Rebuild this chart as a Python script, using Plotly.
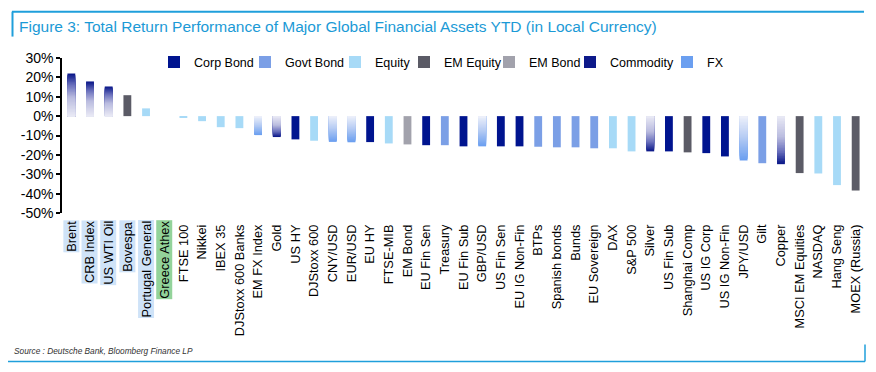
import plotly.graph_objects as go

categories = ["Brent", "CRB Index", "US WTI Oil", "Bovespa", "Portugal General", "Greece Athex",
              "FTSE 100", "Nikkei", "IBEX 35", "DJStoxx 600 Banks", "EM FX Index", "Gold", "US HY",
              "DJStoxx 600", "CNY/USD", "EUR/USD", "EU HY", "FTSE-MIB", "EM Bond", "EU Fin Sen",
              "Treasury", "EU Fin Sub", "GBP/USD", "US Fin Sen", "EU IG Non-Fin", "BTPs",
              "Spanish bonds", "Bunds", "EU Sovereign", "DAX", "S&P 500", "Silver", "US Fin Sub",
              "Shanghai Comp", "US IG Corp", "US IG Non-Fin", "JPY/USD", "Gilt", "Copper",
              "MSCI EM Equities", "NASDAQ", "Hang Seng", "MOEX (Russia)"]

values = [22.0, 17.9, 15.3, 10.8, 4.0, 0.0,
          -0.5, -2.6, -5.7, -6.2, -9.8, -10.8, -12.0,
          -12.7, -13.3, -13.5, -13.4, -14.1, -14.6, -15.0,
          -15.0, -15.6, -15.6, -15.6, -15.6, -15.8,
          -16.1, -16.1, -16.6, -16.6, -18.2, -18.2, -18.2,
          -18.7, -19.1, -20.8, -22.9, -24.3, -24.8,
          -29.4, -29.6, -35.6, -38.4]

asset_class = ["Commodity", "Commodity", "Commodity", "EM Equity", "Equity", "Equity",
               "Equity", "Equity", "Equity", "Equity", "FX", "Commodity", "Corp Bond",
               "Equity", "FX", "FX", "Corp Bond", "Equity", "EM Bond", "Corp Bond",
               "Govt Bond", "Corp Bond", "FX", "Corp Bond", "Corp Bond", "Govt Bond",
               "Govt Bond", "Govt Bond", "Govt Bond", "Equity", "Equity", "Commodity", "Corp Bond",
               "EM Equity", "Corp Bond", "Corp Bond", "FX", "Govt Bond", "Commodity",
               "EM Equity", "Equity", "Equity", "EM Equity"]

legend_order = ["Corp Bond", "Govt Bond", "Equity", "EM Equity", "EM Bond", "Commodity", "FX"]

y_ticks = [30, 20, 10, 0, -10, -20, -30, -40, -50]
y_tick_labels = ["30%", "20%", "10%", "0%", "-10%", "-20%", "-30%", "-40%", "-50%"]

highlighted = ["Brent", "CRB Index", "US WTI Oil", "Bovespa", "Portugal General", "Greece Athex"]
highlight_colors = ["#cfe3f8", "#cfe3f8", "#cfe3f8", "#cfe3f8", "#cfe3f8", "#93d39a"]

solid_colors = {"Corp Bond": "#00148f", "Govt Bond": "#7b9fe6", "Equity": "#a7daf7",
                "EM Equity": "#5b5b66", "EM Bond": "#a2a2ac"}
gradient_stops = {
    "Commodity": [(0.0, "#ebebf6"), (0.45, "#babcdf"), (0.75, "#6a70bc"), (1.0, "#0d1a8a")],
    "FX": [(0.0, "#f0f2fb"), (0.5, "#b5cbf3"), (1.0, "#6b9ff0")],
}

FONT = "Arial, Liberation Sans, sans-serif"
W_PX, H_PX = 876, 372
L, R, T, B = 62, 865, 57.5, 213

# pixel x where each legend entry's text begins
legend_text_x = [187, 278, 368, 437, 522, 603, 700]


def px(x):
    return (x - L) / (R - L)


def py(y):
    return (B - y) / (B - T)


def hex_rgb(h):
    h = h.lstrip("#")
    return tuple(int(h[i:i + 2], 16) for i in (0, 2, 4))


def interp(stops, t):
    for (t0, c0), (t1, c1) in zip(stops[:-1], stops[1:]):
        if t <= t1:
            f = (t - t0) / (t1 - t0) if t1 > t0 else 0
            a, b = hex_rgb(c0), hex_rgb(c1)
            return "rgb(%d,%d,%d)" % tuple(round(a[j] + (b[j] - a[j]) * f) for j in range(3))
    return stops[-1][1]


fig = go.Figure()
N = 30
BAR_W = 0.42
legend_ids = ["legend"] + ["legend%d" % (k + 2) for k in range(len(legend_order) - 1)]
for cls, lid in zip(legend_order, legend_ids):
    idx = [i for i, c in enumerate(asset_class) if c == cls]
    if cls in solid_colors:
        fig.add_trace(go.Bar(x=idx, y=[values[i] for i in idx], name=cls, width=BAR_W, legend=lid,
                             showlegend=True,
                             marker=dict(color=solid_colors[cls], line=dict(width=0)),
                             hovertext=[categories[i] for i in idx]))
    else:
        for k in range(N, 0, -1):
            t = k / N
            fig.add_trace(go.Bar(x=idx, y=[values[i] * t for i in idx], name=cls, width=BAR_W,
                                 legend=lid, legendgroup=cls, showlegend=(k == N),
                                 marker=dict(color=interp(gradient_stops[cls], t), line=dict(width=0)),
                                 hovertext=[categories[i] for i in idx],
                                 hoverinfo="skip" if k < N else None))

ticktext = ["" if c in highlighted else c for c in categories]

annotations = []
for name, col in zip(highlighted, highlight_colors):
    annotations.append(dict(text=name, x=categories.index(name), xref="x", y=py(220), yref="paper",
                            textangle=-90, xanchor="center", yanchor="top", showarrow=False,
                            bgcolor=col, borderpad=0, font=dict(family=FONT, size=12.8, color="#000")))

annotations.append(dict(text="Source : Deutsche Bank, Bloomberg Finance LP", xref="paper", yref="paper",
                        x=px(12), y=py(351), xanchor="left", yanchor="middle", showarrow=False,
                        font=dict(family="Liberation Sans Narrow, " + FONT, size=8.3, color="#333",
                                  style="italic")))

blue = "#1f9fdb"
shapes = [
    dict(type="line", xref="paper", yref="paper", x0=px(12), x1=px(864), y0=py(11), y1=py(11),
         line=dict(color=blue, width=2)),
    dict(type="line", xref="paper", yref="paper", x0=px(12.5), x1=px(12.5), y0=py(11), y1=py(36),
         line=dict(color=blue, width=2)),
    dict(type="line", xref="paper", yref="paper", x0=px(8), x1=px(865), y0=py(362), y1=py(362),
         line=dict(color=blue, width=1.5)),
    dict(type="line", xref="paper", yref="paper", x0=px(865), x1=px(865), y0=py(345), y1=py(362),
         line=dict(color=blue, width=1.5)),
]

legends = {}
for lid, tx in zip(legend_ids, legend_text_x):
    legends[lid] = dict(orientation="h", x=px(tx - 33), y=py(62), xanchor="left", yanchor="middle",
                        font=dict(family=FONT, size=12.5, color="#000"), bgcolor="rgba(0,0,0,0)",
                        itemwidth=30, visible=True)

fig.update_layout(
    width=W_PX, height=H_PX,
    margin=dict(l=L, r=W_PX - R, t=T, b=H_PX - B, pad=0),
    paper_bgcolor="white", plot_bgcolor="white",
    barmode="overlay",
    showlegend=True,
    font=dict(family=FONT, size=12, color="#000"),
    title=dict(text="Figure 3: Total Return Performance of Major Global Financial Assets YTD (in Local Currency)",
               xref="container", yref="container", x=19 / W_PX, y=1 - 27 / H_PX,
               xanchor="left", yanchor="middle",
               font=dict(family=FONT, size=15.5, color="#1b9ad6")),
    xaxis=dict(range=[-0.5, len(categories) - 0.5], tickmode="array",
               tickvals=list(range(len(categories))), ticktext=ticktext, tickangle=-90,
               ticks="", showline=False, showgrid=False, zeroline=False,
               ticklabelstandoff=8, tickfont=dict(family=FONT, size=12.8, color="#000")),
    xaxis2=dict(overlaying="x", anchor="free", position=50 / 80, range=[-0.5, len(categories) - 0.5],
                tickmode="array", tickvals=[i - 0.5 for i in range(len(categories) + 1)],
                ticks="outside", ticklen=4, tickwidth=1.5, tickcolor="#000",
                showticklabels=False, showline=True, linecolor="#000", linewidth=1.5,
                showgrid=False, zeroline=False, side="bottom"),
    yaxis=dict(range=[-50, 30], tickmode="array", tickvals=y_ticks, ticktext=y_tick_labels,
               ticks="outside", ticklen=4, tickwidth=1.5, tickcolor="#000",
               showline=True, linecolor="#000", linewidth=1.5, showgrid=False, zeroline=False,
               tickfont=dict(family=FONT, size=14, color="#000")),
    annotations=annotations,
    shapes=shapes,
    hovermode="closest",
    **legends,
)

fig.write_html("out.html", config={"displayModeBar": False},
               post_script="document.body.style.margin='0';document.body.style.overflow='hidden';")
